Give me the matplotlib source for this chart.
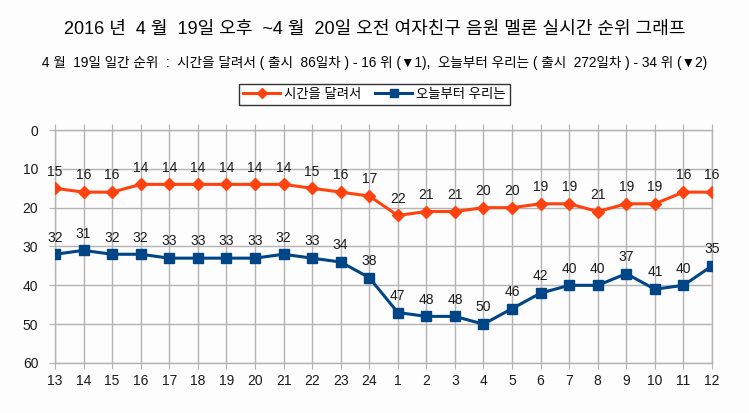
import matplotlib
matplotlib.use('Agg')
import matplotlib.pyplot as plt
import numpy as np

plt.rcParams['font.family'] = ['Liberation Sans', 'Noto Sans CJK KR', 'DejaVu Sans']

# hours (4/19 13h ~ 4/20 12h)
hours = ['13', '14', '15', '16', '17', '18', '19', '20', '21', '22', '23', '24',
         '1', '2', '3', '4', '5', '6', '7', '8', '9', '10', '11', '12']
# ranks
rank_run = [15, 16, 16, 14, 14, 14, 14, 14, 14, 15, 16, 17,
            22, 21, 21, 20, 20, 19, 19, 21, 19, 19, 16, 16]
rank_today = [32, 31, 32, 32, 33, 33, 33, 33, 32, 33, 34, 38,
              47, 48, 48, 50, 46, 42, 40, 40, 37, 41, 40, 35]
y_ticks = [0, 10, 20, 30, 40, 50, 60]

orange = '#ff420e'
blue = '#004586'
grid_c = '#b3b3b3'

fig = plt.figure(figsize=(7.49, 4.13), dpi=100, facecolor='#fdfdfd')
ax = fig.add_axes([0.0734, 0.1211, 0.8772, 0.5641], facecolor='#fdfdfd')

x = np.arange(len(hours))
ax.plot(x, rank_run, color=orange, linewidth=2.2, marker='D', markersize=6,
        label='시간을 달려서', zorder=3)
ax.plot(x, rank_today, color=blue, linewidth=2.2, marker='s', markersize=6.5,
        label='오늘부터 우리는', zorder=3)

for xi, v in zip(x, rank_run):
    ax.annotate(str(v), (xi, v), xytext=(0, 7), textcoords='offset points',
                ha='center', va='bottom', fontsize=10, color='#1a1a1a')
for xi, v in zip(x, rank_today):
    ax.annotate(str(v), (xi, v), xytext=(0, 7), textcoords='offset points',
                ha='center', va='bottom', fontsize=10, color='#1a1a1a')

ax.set_xlim(0, len(hours) - 1)
ax.set_ylim(60, 0)
ax.set_xticks(x)
ax.set_xticklabels(hours)
ax.set_yticks(y_ticks)
ax.grid(True, color=grid_c, linewidth=1)
ax.set_axisbelow(True)
for s in ax.spines.values():
    s.set_color(grid_c)
    s.set_linewidth(1)
ax.tick_params(axis='both', length=4, color=grid_c, labelsize=10,
               labelcolor='#1a1a1a', direction='out')
ax.tick_params(axis='x', top=True, labeltop=False, pad=4)
ax.tick_params(axis='y', pad=8)

fig.text(0.5, 0.93, '2016 년  4 월  19일 오후  ~4 월  20일 오전 여자친구 음원 멜론 실시간 순위 그래프',
         ha='center', va='center', fontsize=13)
sub = fig.text(0.5, 0.847, '4 월  19일 일간 순위  :  시간을 달려서 ( 출시  86일차 ) - 16 위 (▼1),  '
               '오늘부터 우리는 ( 출시  272일차 ) - 34 위 (▼2)',
               ha='center', va='center', fontsize=9.8)

leg = fig.legend(loc='center', bbox_to_anchor=(0.5, 0.771), ncol=2, fontsize=9.6,
                 frameon=True, fancybox=False, edgecolor='black', handlelength=2.8,
                 columnspacing=1.0, handletextpad=0.3, borderpad=0.3,
                 borderaxespad=0, markerscale=0.85)
leg.get_frame().set_linewidth(1)

fig.savefig('out.png', dpi=100, facecolor=fig.get_facecolor())
